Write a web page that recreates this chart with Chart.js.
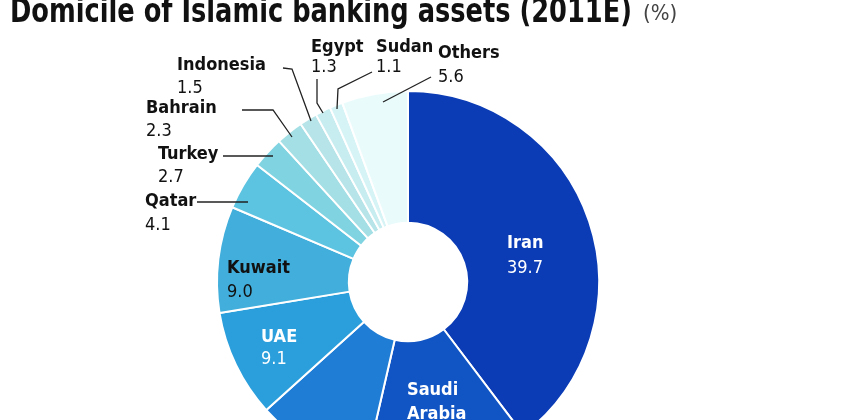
<!DOCTYPE html>
<html>
<head>
<meta charset="utf-8">
<script src="https://cdn.jsdelivr.net/npm/chart.js@4.4.0/dist/chart.umd.min.js"></script>
<style>
  html, body { margin: 0; padding: 0; background: #fff; overflow: hidden; }
  #wrap { width: 855px; height: 420px; overflow: hidden; position: relative; }
  canvas { display: block; }
</style>
</head>
<body>
<div id="wrap"><canvas id="donut" width="855" height="500"></canvas></div>
<script>
// Дані: країни та частка активів (%)
const countries = ['Iran', 'Saudi Arabia', 'Malaysia', 'UAE', 'Kuwait', 'Qatar',
  'Turkey', 'Bahrain', 'Indonesia', 'Egypt', 'Sudan', 'Others'];
const shares = [39.7, 13.9, 9.7, 9.1, 9.0, 4.1, 2.7, 2.3, 1.5, 1.3, 1.1, 5.6];
const valueLabels = ['39.7', '', '', '9.1', '9.0', '4.1', '2.7', '2.3', '1.5', '1.3', '1.1', '5.6'];

const sliceColors = ['#0b3cb6', '#1155c4', '#1f7dd6', '#2b9fdc', '#41aedb', '#5cc3e0',
  '#80d4e1', '#a3dfe4', '#b6e4e8', '#c7edf0', '#d6f4f6', '#eafbfc'];

const titleText = 'Domicile of Islamic banking assets (2011E)';
const boldFont = '"Liberation Sans Narrow", "DejaVu Sans Condensed", sans-serif';

// Розташування підписів (не дані)
const labelLayout = {
  'Iran':        { x: 507, y: 243, dy: 25, color: '#fff' },
  'Saudi Arabia':{ x: 407, y: 390, dy: 24, color: '#fff', lines: ['Saudi', 'Arabia'] },
  'UAE':         { x: 261, y: 337, dy: 22, color: '#fff' },
  'Kuwait':      { x: 227, y: 268, dy: 24, color: '#111' },
  'Qatar':       { x: 145, y: 201, dy: 24, color: '#111', lead: [[197, 202], [248, 202]] },
  'Turkey':      { x: 158, y: 154, dy: 23, color: '#111', lead: [[223, 156], [273, 156]] },
  'Bahrain':     { x: 146, y: 108, dy: 23, color: '#111', lead: [[242, 110], [273, 110], [292, 137]] },
  'Indonesia':   { x: 177, y: 65,  dy: 23, color: '#111', lead: [[283, 68], [292, 69], [311, 121]] },
  'Egypt':       { x: 311, y: 47,  dy: 20, color: '#111', lead: [[317, 79], [317, 103], [323, 113]] },
  'Sudan':       { x: 376, y: 47,  dy: 20, color: '#111', lead: [[372, 72], [338, 89], [337, 109]] },
  'Others':      { x: 438, y: 53,  dy: 24, color: '#111', lead: [[431, 77], [383, 102]] }
};

const labelPlugin = {
  id: 'labels',
  afterDraw(chart) {
    const ctx = chart.ctx;
    ctx.save();
    // Заголовок
    ctx.textBaseline = 'alphabetic';
    ctx.textAlign = 'left';
    ctx.fillStyle = '#111';
    ctx.font = 'bold 33px ' + boldFont;
    const w = ctx.measureText(titleText).width;
    ctx.save();
    ctx.translate(10, 22);
    ctx.scale(622 / w, 1);
    ctx.fillText(titleText, 0, 0);
    ctx.restore();
    ctx.fillStyle = '#444';
    ctx.font = '22px ' + boldFont;
    ctx.fillText('(%)', 643, 20);

    // Підписи сегментів
    ctx.textBaseline = 'middle';
    countries.forEach((name, i) => {
      const l = labelLayout[name];
      if (!l) return;
      if (l.lead) {
        ctx.strokeStyle = '#222';
        ctx.lineWidth = 1.3;
        ctx.beginPath();
        l.lead.forEach((p, k) => k ? ctx.lineTo(p[0], p[1]) : ctx.moveTo(p[0], p[1]));
        ctx.stroke();
      }
      ctx.fillStyle = l.color;
      ctx.font = 'bold 18px ' + boldFont;
      const lines = l.lines || [name];
      lines.forEach((t, k) => ctx.fillText(t, l.x, l.y + k * l.dy));
      if (valueLabels[i]) {
        ctx.font = '18px ' + boldFont;
        ctx.fillText(valueLabels[i], l.x, l.y + lines.length * l.dy);
      }
    });
    ctx.restore();
  }
};

const ctx = document.getElementById('donut').getContext('2d');
new Chart(ctx, {
  type: 'doughnut',
  data: {
    labels: countries,
    datasets: [{
      data: shares,
      backgroundColor: sliceColors,
      borderColor: '#ffffff',
      borderWidth: 2
    }]
  },
  options: {
    responsive: false,
    animation: false,
    cutout: '31%',
    layout: { padding: { left: 216, right: 255, top: 90, bottom: 26 } },
    plugins: { legend: { display: false }, tooltip: { enabled: false } }
  },
  plugins: [labelPlugin]
});
</script>
</body>
</html>
